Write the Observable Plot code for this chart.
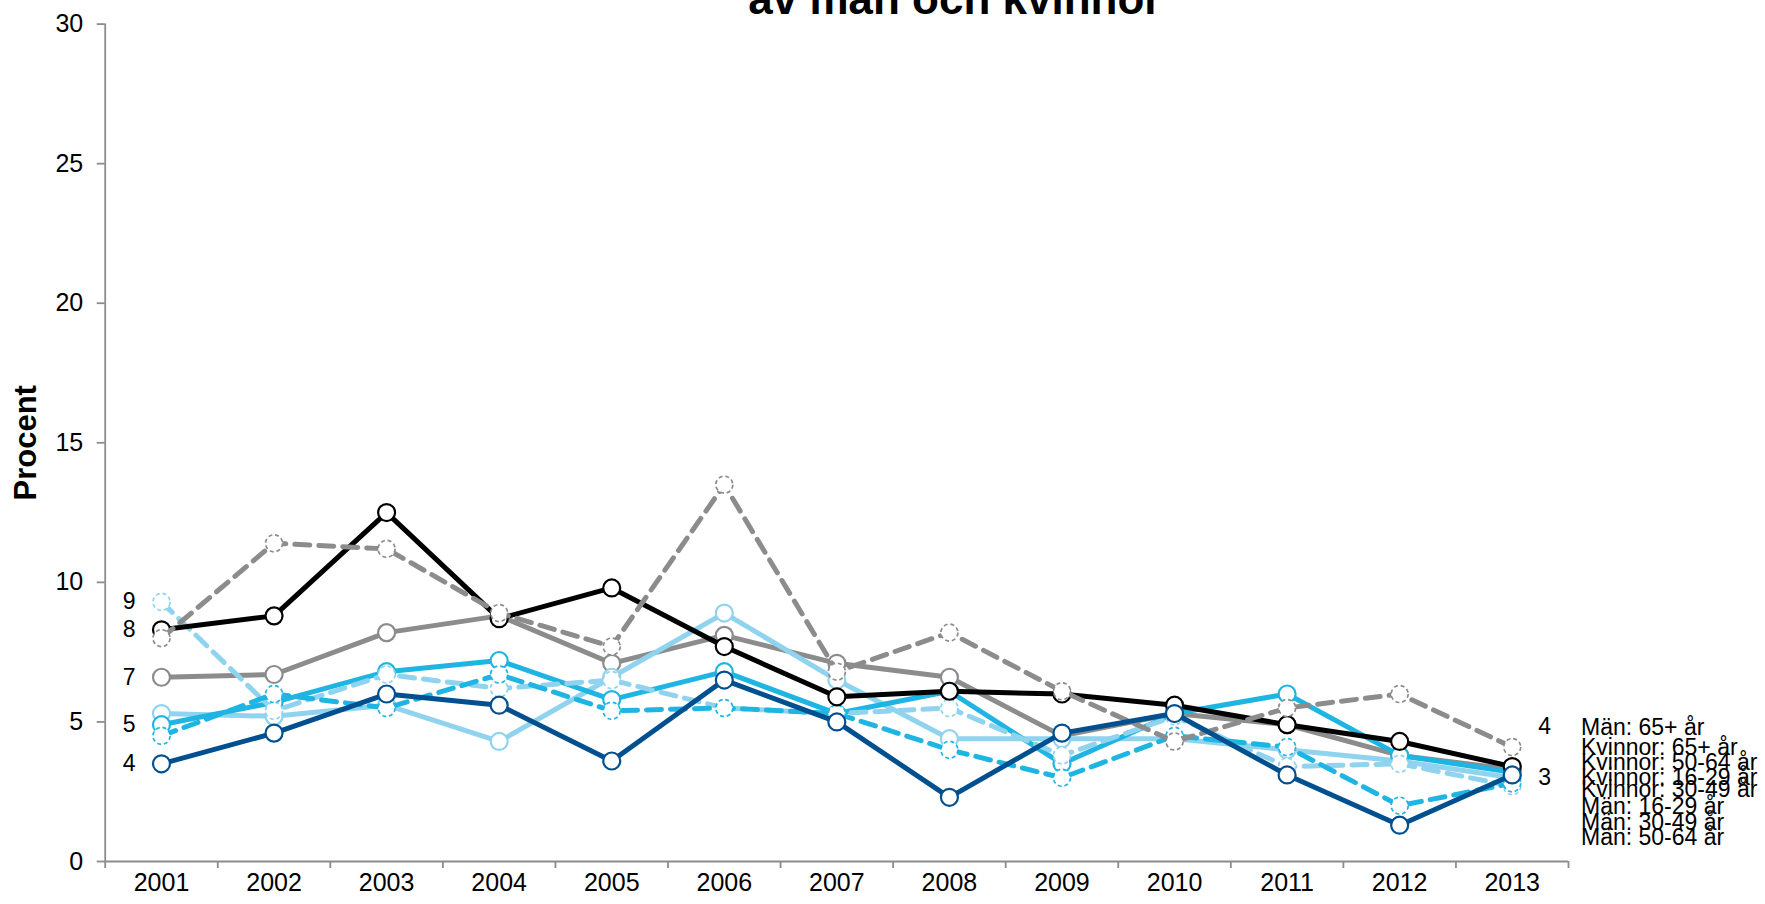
<!DOCTYPE html>
<html>
<head>
<meta charset="utf-8">
<script src="https://cdn.jsdelivr.net/npm/d3@7"></script>
<script src="https://cdn.jsdelivr.net/npm/@observablehq/plot@0.6"></script>
<style>
  html, body { margin: 0; padding: 0; background: white; }
  #wrap { position: relative; width: 1765px; height: 904px; overflow: hidden; font-family: "Liberation Sans", Arial, sans-serif; }
  #legend { position: absolute; left: 1581px; top: 0; font-size: 23px; color: black; white-space: nowrap; }
  #legend div { position: absolute; left: 0; line-height: 1; }
</style>
</head>
<body>
<div id="wrap"></div>
<script>
// ---- data ----
const years = [2001, 2002, 2003, 2004, 2005, 2006, 2007, 2008, 2009, 2010, 2011, 2012, 2013];
const yTicks = [0, 5, 10, 15, 20, 25, 30];
const seriesNames = ["Män: 65+ år", "Kvinnor: 65+ år", "Kvinnor: 50-64 år", "Kvinnor: 16-29 år", "Kvinnor: 30-49 år", "Män: 16-29 år", "Män: 30-49 år", "Män: 50-64 år"];
const man65     = [8.3, 8.8, 12.5, 8.7, 9.8, 7.7, 5.9, 6.1, 6.0, 5.6, 4.9, 4.3, 3.4];
const kvinnor65 = [8.0, 11.4, 11.2, 8.9, 7.7, 13.5, 6.8, 8.2, 6.1, 4.3, 5.5, 6.0, 4.1];
const kvinnor5064 = [6.6, 6.7, 8.2, 8.8, 7.1, 8.1, 7.1, 6.6, 4.5, 5.3, 4.9, 3.8, 3.3];
const kvinnor1629 = [9.3, 5.4, 6.7, 6.2, 6.5, 5.5, 5.3, 5.5, 3.8, 5.2, 3.4, 3.5, 2.7];
const kvinnor3049 = [4.5, 6.0, 5.5, 6.7, 5.4, 5.5, 5.3, 4.0, 3.0, 4.5, 4.1, 2.0, 2.8];
const man1629   = [5.3, 5.2, 5.6, 4.3, 6.6, 8.9, 6.5, 4.4, 4.4, 4.4, 4.0, 3.6, 3.0];
const man3049   = [4.9, 5.7, 6.8, 7.2, 5.8, 6.8, 5.3, 6.1, 3.5, 5.3, 6.0, 3.8, 3.2];
const man5064   = [3.5, 4.6, 6.0, 5.6, 3.6, 6.5, 5.0, 2.3, 4.6, 5.3, 3.1, 1.3, 3.1];
const titleText = "av män och kvinnor";
const yLabel = "Procent";

// ---- styles ----
const styles = {
  "Män: 65+ år":       {color: "#000000", dashed: false, values: man65},
  "Kvinnor: 65+ år":   {color: "#8c8c8c", dashed: true,  values: kvinnor65},
  "Kvinnor: 50-64 år": {color: "#8c8c8c", dashed: false, values: kvinnor5064},
  "Kvinnor: 16-29 år": {color: "#8fd3ee", dashed: true,  values: kvinnor1629},
  "Kvinnor: 30-49 år": {color: "#1fb5e3", dashed: true,  values: kvinnor3049},
  "Män: 16-29 år":     {color: "#8fd3ee", dashed: false, values: man1629},
  "Män: 30-49 år":     {color: "#1fb5e3", dashed: false, values: man3049},
  "Män: 50-64 år":     {color: "#004f8e", dashed: false, values: man5064}
};
const drawOrder = ["Kvinnor: 50-64 år", "Män: 16-29 år", "Män: 30-49 år", "Kvinnor: 16-29 år", "Kvinnor: 30-49 år", "Män: 65+ år", "Kvinnor: 65+ år", "Män: 50-64 år"];

const rowsFor = name => years.map((year, i) => ({year, value: styles[name].values[i], series: name}));

const seriesMarks = drawOrder.flatMap(name => {
  const s = styles[name];
  const rows = rowsFor(name);
  return [
    Plot.line(rows, {x: "year", y: "value", stroke: s.color, strokeWidth: 5,
      strokeDasharray: s.dashed ? "15,9" : null, strokeLinejoin: "miter"}),
    Plot.dot(rows, {x: "year", y: "value", r: 8.5, fill: "white", stroke: s.color,
      strokeWidth: s.dashed ? 1.7 : 2.2, strokeDasharray: s.dashed ? "4,2.8" : null})
  ];
});

// value labels at the ends
const leftLabelSeries = ["Kvinnor: 16-29 år", "Män: 65+ år", "Kvinnor: 50-64 år", "Män: 30-49 år", "Män: 50-64 år"];
const leftLabels = leftLabelSeries.map(n => ({year: years[0], value: styles[n].values[0], label: String(Math.round(styles[n].values[0]))}));
const last = years.length - 1;
const rightLabelTop = [{year: years[last], value: kvinnor65[last], label: String(Math.round(kvinnor65[last]))}];
const rightLabelBottom = [{year: years[last], value: man1629[last], label: String(Math.round(man1629[last]))}];

const boundaries = d3.range(years[0] - 0.5, years[last] + 1, 1);
const axisGray = "#8c8c8c";

const plot = Plot.plot({
  width: 1765,
  height: 904,
  marginLeft: 104.7,
  marginRight: 197,
  marginTop: 23.6,
  marginBottom: 43,
  style: {fontFamily: "'Liberation Sans', Arial, sans-serif", color: "black", background: "white", overflow: "hidden"},
  x: {type: "linear", domain: [years[0] - 0.5, years[last] + 0.5]},
  y: {domain: [0, 30]},
  marks: [
    Plot.ruleY([0], {stroke: axisGray, strokeWidth: 1.8}),
    Plot.ruleX([years[0] - 0.5], {stroke: axisGray, strokeWidth: 1.8}),
    Plot.axisY(yTicks, {tickSize: 8, tickPadding: 14, fontSize: 25, stroke: axisGray, strokeWidth: 1.8, fill: "black", label: null, tickFormat: d => String(d)}),
    Plot.axisX(boundaries, {tickSize: 7, stroke: axisGray, strokeWidth: 1.8, tickFormat: () => "", label: null}),
    Plot.axisX(years, {tickSize: 0, tickPadding: 12, fontSize: 25, fill: "black", label: null, tickFormat: d => String(d)}),
    ...seriesMarks,
    Plot.text(leftLabels, {x: "year", y: "value", text: "label", textAnchor: "end", dx: -26, fontSize: 23, fill: "black"}),
    Plot.text(rightLabelTop, {x: "year", y: "value", text: "label", textAnchor: "start", dx: 26, dy: -20, fontSize: 23, fill: "black"}),
    Plot.text(rightLabelBottom, {x: "year", y: "value", text: "label", textAnchor: "start", dx: 26, fontSize: 23, fill: "black"}),
    Plot.text([titleText], {text: d => d, frameAnchor: "top", dx: 118, dy: -10, lineAnchor: "bottom", fontSize: 44, fontWeight: "bold", fill: "black"}),
    Plot.text([yLabel], {text: d => d, frameAnchor: "left", textAnchor: "middle", dx: -79, rotate: -90, fontSize: 31, fontWeight: "bold", fill: "black"})
  ]
});

const wrap = document.getElementById("wrap");
wrap.appendChild(plot);

// stacked series names at the right
const legendTops = [716, 736, 751, 766, 778, 795, 811, 826];
const legend = document.createElement("div");
legend.id = "legend";
seriesNames.forEach((name, i) => {
  const d = document.createElement("div");
  d.textContent = name;
  d.style.top = legendTops[i] + "px";
  legend.appendChild(d);
});
wrap.appendChild(legend);
</script>
</body>
</html>
